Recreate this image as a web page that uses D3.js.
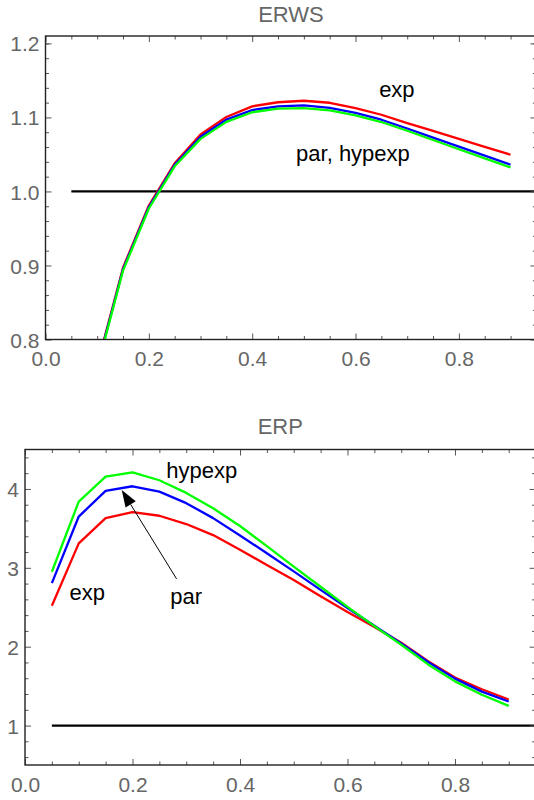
<!DOCTYPE html>
<html>
<head>
<meta charset="utf-8">
<script src="https://cdn.jsdelivr.net/npm/d3@7"></script>
<style>
  html, body { margin: 0; padding: 0; background: #fff; }
  svg { display: block; }
  text { font-family: "Liberation Sans", Arial, sans-serif; }
</style>
</head>
<body>
<svg id="chart" width="534" height="800"></svg>
<script>
// Load factor grid shared by both panels
const loads = [0.05, 0.1, 0.15, 0.2, 0.25, 0.3, 0.35, 0.4, 0.45, 0.5,
               0.55, 0.6, 0.65, 0.7, 0.75, 0.8, 0.85, 0.9];

// ERWS panel
const erwsExp    = [0.545, 0.765, 0.897, 0.981, 1.038, 1.077, 1.1005, 1.115, 1.1205, 1.1225,
                    1.1198, 1.1127, 1.1036, 1.0924, 1.0817, 1.0710, 1.0603, 1.0496];
const erwsPar    = [0.540, 0.763, 0.895, 0.979, 1.036, 1.074, 1.097, 1.110, 1.1149, 1.1162,
                    1.1130, 1.106, 1.0969, 1.0850, 1.0728, 1.0605, 1.0483, 1.0361];
const erwsHypexp = [0.535, 0.761, 0.893, 0.977, 1.034, 1.071, 1.094, 1.107, 1.1118, 1.1127,
                    1.1095, 1.1027, 1.0938, 1.0820, 1.0695, 1.0570, 1.0447, 1.0325];

// ERP panel
const erpExp    = [2.52, 3.31, 3.63, 3.705, 3.66, 3.555, 3.415, 3.23, 3.035, 2.845,
                   2.64, 2.44, 2.25, 2.05, 1.815, 1.61, 1.46, 1.33];
const erpPar    = [2.805, 3.65, 3.975, 4.034, 3.966, 3.82, 3.63, 3.41, 3.185, 2.955,
                   2.72, 2.49, 2.265, 2.04, 1.805, 1.595, 1.43, 1.305];
const erpHypexp = [2.95, 3.84, 4.155, 4.21, 4.11, 3.95, 3.755, 3.53, 3.275, 3.015,
                   2.76, 2.505, 2.26, 2.025, 1.775, 1.56, 1.39, 1.25];

// Reference level
const refLevel = 1;
const refStart = 0.05;

// Axis ticks
const xMajor = [0, 0.2, 0.4, 0.6, 0.8];
const xMinor = [0.05, 0.1, 0.15, 0.25, 0.3, 0.35, 0.45, 0.5, 0.55, 0.65, 0.7, 0.75, 0.85, 0.9];
const erwsYMajor = [0.8, 0.9, 1.0, 1.1, 1.2];
const erwsYMinor = [0.82, 0.84, 0.86, 0.88, 0.92, 0.94, 0.96, 0.98, 1.02, 1.04, 1.06, 1.08,
                    1.12, 1.14, 1.16, 1.18, 1.2];
const erpYMajor = [1, 2, 3, 4];
const erpYMinor = [0.6, 0.8, 1.2, 1.4, 1.6, 1.8, 2.2, 2.4, 2.6, 2.8, 3.2, 3.4, 3.6, 3.8,
                   4.2, 4.4];

// Labels placed in data coordinates
const erwsLabels = [
  { text: "exp", x: 0.68, y: 1.128 },
  { text: "par, hypexp", x: 0.595, y: 1.041 }
];
const erpLabels = [
  { text: "hypexp", x: 0.329, y: 4.139 },
  { text: "exp", x: 0.116, y: 2.593 },
  { text: "par", x: 0.30, y: 2.542 }
];
const erpArrow = { from: [0.282, 2.86], to: [0.18, 3.987] };

const seriesColors = ["#ff0000", "#0000ff", "#00ff00"];

const svg = d3.select("#chart");
svg.append("rect").attr("width", 534).attr("height", 800).attr("fill", "#fff");

function panel(opts) {
  const { id, left, top, right, bottom, yDomain, title, titleBaseline,
          series, yMajor, yMinor, yFormat, labels, arrow } = opts;
  const x = d3.scaleLinear().domain([0, 0.95]).range([left, right]);
  const y = d3.scaleLinear().domain(yDomain).range([bottom, top]);
  const g = svg.append("g");

  const clipId = "clip-" + id;
  svg.append("clipPath").attr("id", clipId)
    .append("rect")
    .attr("x", left).attr("y", top)
    .attr("width", right - left).attr("height", bottom - top);

  // Title
  g.append("text")
    .attr("x", (left + right) / 2).attr("y", titleBaseline)
    .attr("text-anchor", "middle")
    .attr("font-size", 22).attr("fill", "#666")
    .text(title);

  const plot = g.append("g").attr("clip-path", `url(#${clipId})`);

  // Reference line at 1
  plot.append("line")
    .attr("x1", x(refStart)).attr("x2", x(0.95))
    .attr("y1", y(refLevel)).attr("y2", y(refLevel))
    .attr("stroke", "#000").attr("stroke-width", 2.2);

  const line = d3.line().x((d, i) => x(loads[i])).y(d => y(d));
  series.forEach((vals, k) => {
    plot.append("path")
      .datum(vals)
      .attr("d", line)
      .attr("fill", "none")
      .attr("stroke", seriesColors[k])
      .attr("stroke-width", 2.3)
      .attr("stroke-linejoin", "round");
  });

  // Frame ticks on all four sides, pointing inward
  const tickColor = "#555";
  function addAxis(axis, transform, labelled) {
    const a = g.append("g").attr("transform", transform).call(axis);
    a.select(".domain").remove();
    a.selectAll(".tick line").attr("stroke", tickColor).attr("stroke-width", 1);
    a.selectAll(".tick text")
      .attr("fill", "#666").attr("font-size", 21)
      .attr("font-family", '"Liberation Sans", Arial, sans-serif');
    if (!labelled) a.selectAll(".tick text").remove();
    return a;
  }
  const fx = d3.format(".1f");
  addAxis(d3.axisBottom(x).tickValues(xMajor).tickSize(-6).tickPadding(12).tickFormat(fx),
          `translate(0,${bottom})`, true);
  addAxis(d3.axisBottom(x).tickValues(xMinor).tickSize(-3.5).tickFormat(""),
          `translate(0,${bottom})`, false);
  addAxis(d3.axisTop(x).tickValues(xMajor).tickSize(-6).tickFormat(""),
          `translate(0,${top})`, false);
  addAxis(d3.axisTop(x).tickValues(xMinor).tickSize(-3.5).tickFormat(""),
          `translate(0,${top})`, false);
  const yl = addAxis(d3.axisLeft(y).tickValues(yMajor).tickSize(-6).tickPadding(6).tickFormat(yFormat),
          `translate(${left},0)`, true);
  yl.selectAll(".tick text").attr("dy", "0.36em");
  addAxis(d3.axisLeft(y).tickValues(yMinor).tickSize(-3.5).tickFormat(""),
          `translate(${left},0)`, false);
  addAxis(d3.axisRight(y).tickValues(yMajor).tickSize(-6).tickFormat(""),
          `translate(${right},0)`, false);
  addAxis(d3.axisRight(y).tickValues(yMinor).tickSize(-3.5).tickFormat(""),
          `translate(${right},0)`, false);

  // Frame
  g.append("rect")
    .attr("x", left).attr("y", top)
    .attr("width", right - left).attr("height", bottom - top)
    .attr("fill", "none").attr("stroke", "#222").attr("stroke-width", 1.4);

  // Arrow annotation
  if (arrow) {
    const [x0, y0] = [x(arrow.from[0]), y(arrow.from[1])];
    const [x1, y1] = [x(arrow.to[0]), y(arrow.to[1])];
    const ang = Math.atan2(y1 - y0, x1 - x0);
    const len = 17, hw = 6;
    const bx = x1 - len * Math.cos(ang), by = y1 - len * Math.sin(ang);
    g.append("line")
      .attr("x1", x0).attr("y1", y0).attr("x2", bx).attr("y2", by)
      .attr("stroke", "#000").attr("stroke-width", 1);
    g.append("path")
      .attr("d", `M${x1},${y1}L${bx + hw * Math.sin(ang)},${by - hw * Math.cos(ang)}` +
                 `L${bx - hw * Math.sin(ang)},${by + hw * Math.cos(ang)}Z`)
      .attr("fill", "#000");
  }

  // Curve labels with white backing
  labels.forEach(l => {
    const lg = g.append("g");
    const t = lg.append("text")
      .attr("x", x(l.x)).attr("y", y(l.y))
      .attr("text-anchor", "middle")
      .attr("font-size", 22).attr("fill", "#000")
      .text(l.text);
    const bb = t.node().getBBox();
    lg.insert("rect", "text")
      .attr("x", bb.x - 2).attr("y", bb.y + 1)
      .attr("width", bb.width + 4).attr("height", bb.height - 2)
      .attr("fill", "#fff");
  });
}

panel({
  id: "erws", left: 45.5, top: 36, right: 536.4, bottom: 339.5,
  yDomain: [0.8, 1.21], title: "ERWS", titleBaseline: 22.3,
  series: [erwsExp, erwsPar, erwsHypexp],
  yMajor: erwsYMajor, yMinor: erwsYMinor, yFormat: d3.format(".1f"),
  labels: erwsLabels
});

panel({
  id: "erp", left: 25, top: 449.5, right: 535.6, bottom: 765,
  yDomain: [0.5, 4.5], title: "ERP", titleBaseline: 434.3,
  series: [erpExp, erpPar, erpHypexp],
  yMajor: erpYMajor, yMinor: erpYMinor, yFormat: d3.format("d"),
  labels: erpLabels, arrow: erpArrow
});
</script>
</body>
</html>
